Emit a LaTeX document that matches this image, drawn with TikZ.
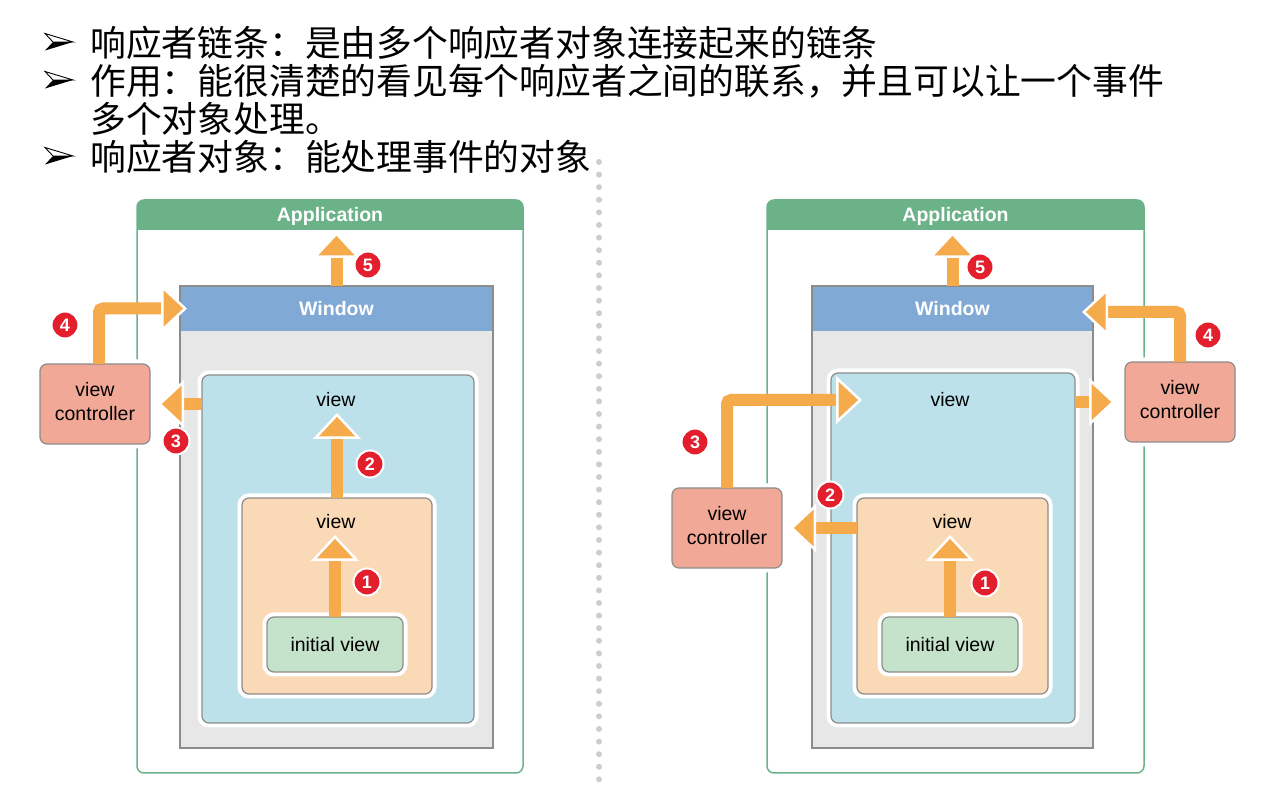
\documentclass[tikz,border=0pt]{standalone}
\usepackage{fontspec}
\newfontfamily\cjk{Noto Sans CJK SC}
\newfontfamily\lab{Liberation Sans}
\usetikzlibrary{arrows.meta}
\definecolor{appgreen}{RGB}{108,178,137}
\definecolor{winblue}{RGB}{128,169,214}
\definecolor{wingray}{RGB}{230,231,230}
\definecolor{bordergray}{RGB}{140,140,140}
\definecolor{viewblue}{RGB}{189,225,235}
\definecolor{vieworange}{RGB}{250,217,182}
\definecolor{initgreen}{RGB}{197,226,202}
\definecolor{vcred}{RGB}{242,168,150}
\definecolor{arrowor}{RGB}{245,170,75}
\definecolor{badgered}{RGB}{227,30,45}
\definecolor{dotc}{RGB}{205,205,205}
\tikzset{
  bx/.style={inner sep=0pt, outer sep=0pt, rounded corners=7pt, draw=bordergray, line width=1.2pt,
    preaction={draw=white, line width=9pt}},
  appbox/.style={inner sep=0pt, outer sep=0pt, rounded corners=7pt, draw=appgreen, line width=1.5pt},
  winbox/.style={inner sep=0pt, outer sep=0pt, fill=wingray},
  winhead/.style={inner sep=0pt, outer sep=0pt, fill=winblue, minimum height=45pt, text=white,
    font=\lab\bfseries\fontsize{19.5}{22}\selectfont},
  apptext/.style={inner sep=0pt, text=white, font=\lab\bfseries\fontsize{19.5}{22}\selectfont},
  lbl/.style={inner sep=0pt, font=\lab\fontsize{19.5}{22}\selectfont, align=center},
  fat/.style={draw=arrowor, line width=12pt, rounded corners=4pt,
    -{Triangle[width=48pt,length=26pt,fill=arrowor,color=white,line width=2.5pt]}},
  badge/.style={circle, fill=badgered, draw=white, line width=2pt, minimum size=27pt, inner sep=0pt,
    text=white, font=\lab\bfseries\fontsize{18}{18}\selectfont},
  cjkline/.style={anchor=base west, inner sep=0pt, font=\cjk\fontsize{35.8}{40}\selectfont},
  bul/.pic={
    \fill[black] (0,-8.5) -- (28,0) -- (8,0) -- cycle;
    \draw[black, fill=white, line width=0.9pt, line join=miter] (0,8.5) -- (28,0) -- (8,0) -- cycle;
  }
}
\begin{document}
\begin{tikzpicture}[x=1pt,y=1pt]
\fill[white] (0,0) rectangle (1286,790);
\path[use as bounding box] (0,0) rectangle (1286,790);

% ---------- heading text ----------
\pic at (45,748) {bul};
\node[cjkline] (t1) at (90,733) {响应者链条：是由多个响应者对象连接起来的链条};
\pic at (45,710) {bul};
\node[cjkline] (t2) at (90,695) {作用：能很清楚的看见每个响应者之间的联系，并且可以让一个事件};
\node[cjkline] (t3) at (90,657) {多个对象处理。};
\pic at (45,634) {bul};
\node[cjkline] (t4) at (90,619) {响应者对象：能处理事件的对象};

% ---------- dotted separator ----------
\draw[dotc, line width=6pt, line cap=round, dash pattern=on 0pt off 12.6pt] (599,628) -- (599,5);

% ================= LEFT DIAGRAM =================
\node[appbox, minimum width=386pt, minimum height=573pt] (appL) at (330,303.5) {};
\fill[appgreen, rounded corners=7pt] (appL.north west) rectangle ([yshift=-30pt]appL.north east);
\fill[appgreen] ([yshift=-12pt]appL.north west) rectangle ([yshift=-30pt]appL.north east);
\coordinate (apphbL) at ([yshift=-30pt]appL.north);
\node[apptext] (apptL) at ([yshift=-16pt]appL.north) {Application};

\node[winbox, minimum width=313pt, minimum height=462pt] (winL) at (336.5,273) {};
\node[winhead, minimum width=313pt] (winhL) at (336.5,481.5) {Window};
\draw[bordergray, line width=1.5pt] (winL.south west) rectangle (winL.north east);

\node[bx, fill=viewblue, minimum width=272pt, minimum height=348pt] (blueL) at (338,241) {};
\node[bx, fill=vieworange, minimum width=190pt, minimum height=196pt] (ovL) at (337,194) {};
\node[bx, fill=initgreen, minimum width=136pt, minimum height=55pt] (ivL) at (335,145.5) {};
\node[lbl] at (ivL) {initial view};
\node[bx, fill=vcred, minimum width=110pt, minimum height=80pt] (vcL) at (95,386) {};
\node[lbl] at ([yshift=2pt]vcL.center) {view\\[2pt]controller};
\node[lbl] (bvlabL) at (336,390) {view};
\node[lbl] (ovlabL) at (336,268) {view};

\coordinate (t1L) at ([yshift=-13pt]ovlabL.center);
\coordinate (t2L) at ([yshift=-13pt]bvlabL.center);
\coordinate (t5L) at ([yshift=-2pt]apphbL);
\coordinate (t4L) at ([xshift=7pt]winhL.west);
\coordinate (s4L) at ([xshift=4pt]vcL.north);

\draw[fat] (ivL.north) -- (ivL.north |- t1L);
\draw[fat] (ovL.north) -- (ovL.north |- t2L);
\draw[fat, shorten >=8pt] (blueL.west |- vcL.east) -- (vcL.east);
\draw[fat] (s4L) |- (t4L);
\draw[fat] (winL.north) -- (winL.north |- t5L);

\node[badge] (n5L) at (368,525) {5};
\node[badge] (n4L) at (65,465) {4};
\node[badge] (n3L) at (176,349) {3};
\node[badge] (n2L) at (370,326) {2};
\node[badge] (n1L) at (367,208) {1};

% ================= RIGHT DIAGRAM =================
\node[appbox, minimum width=377pt, minimum height=573pt] (appR) at (955.5,303.5) {};
\fill[appgreen, rounded corners=7pt] (appR.north west) rectangle ([yshift=-30pt]appR.north east);
\fill[appgreen] ([yshift=-12pt]appR.north west) rectangle ([yshift=-30pt]appR.north east);
\coordinate (apphbR) at ([yshift=-30pt]appR.north);
\node[apptext] (apptR) at ([yshift=-16pt]appR.north) {Application};

\node[winbox, minimum width=281pt, minimum height=462pt] (winR) at (952.5,273) {};
\node[winhead, minimum width=281pt] (winhR) at (952.5,481.5) {Window};
\draw[bordergray, line width=1.5pt] (winR.south west) rectangle (winR.north east);

\node[bx, fill=viewblue, minimum width=244pt, minimum height=350pt] (blueR) at (953,242) {};
\node[bx, fill=vieworange, minimum width=191pt, minimum height=196pt] (ovR) at (952.5,194) {};
\node[bx, fill=initgreen, minimum width=136pt, minimum height=55pt] (ivR) at (950,145.5) {};
\node[lbl] at (ivR) {initial view};
\node[bx, fill=vcred, minimum width=110pt, minimum height=80pt] (vcR) at (1180,388) {};
\node[lbl] at ([yshift=2pt]vcR.center) {view\\[2pt]controller};
\node[bx, fill=vcred, minimum width=110pt, minimum height=80pt] (vcRL) at (727,262) {};
\node[lbl] at ([yshift=2pt]vcRL.center) {view\\[2pt]controller};
\node[lbl] (bvlabR) at (950,390) {view};
\node[lbl] (ovlabR) at (952,268) {view};

\coordinate (t1R) at ([yshift=-13pt]ovlabR.center);
\coordinate (t5R) at ([yshift=-2pt]apphbR);
\path (blueR.west |- bvlabR.center) ++(31pt,0) coordinate (t3R);
\path (winhR.east) ++(-11pt,-3.5pt) coordinate (t4R);

\draw[fat] (ivR.north) -- (ivR.north |- t1R);
\draw[fat, shorten >=8pt] (ovR.west |- vcRL.east) -- (vcRL.east);
\draw[fat] (vcRL.north) |- (t3R);
\draw[fat, shorten >=10pt] (blueR.east |- vcR.west) -- (vcR.west);
\draw[fat] (vcR.north) |- (t4R);
\draw[fat] (winR.north) -- (winR.north |- t5R);

\node[badge] (n5R) at (980,523) {5};
\node[badge] (n4R) at (1208,455) {4};
\node[badge] (n3R) at (695,348) {3};
\node[badge] (n2R) at (830,295) {2};
\node[badge] (n1R) at (985,207) {1};
\end{tikzpicture}
\end{document}
